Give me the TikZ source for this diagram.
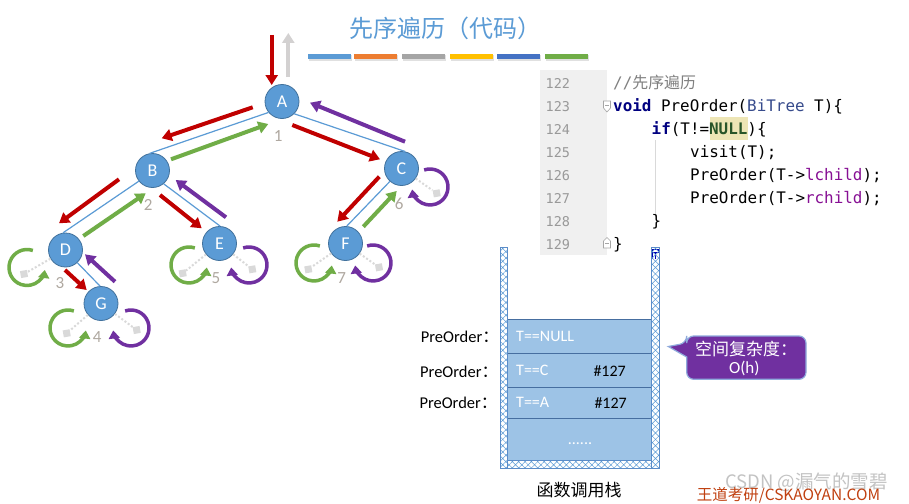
\documentclass[tikz,border=0pt]{standalone}
\usepackage{fontspec}
\setmainfont{Carlito}
\newfontfamily\cjk{Noto Sans CJK SC}
\newfontfamily\mono{DejaVu Sans Mono}
\usetikzlibrary{arrows.meta,patterns.meta,calc}
\definecolor{nodefill}{HTML}{5B9BD5}
\definecolor{nodeline}{HTML}{41719C}
\definecolor{edgeblue}{HTML}{5B9BD5}
\definecolor{arrred}{HTML}{C00000}
\definecolor{arrgreen}{HTML}{70AD47}
\definecolor{arrpurple}{HTML}{7030A0}
\definecolor{arrgray}{HTML}{D3D1D1}
\definecolor{numgray}{RGB}{175,168,160}
\definecolor{titleblue}{HTML}{5B9BD5}
\definecolor{barA}{HTML}{5B9BD5}
\definecolor{barB}{HTML}{ED7D31}
\definecolor{barC}{HTML}{A5A5A5}
\definecolor{barD}{HTML}{FFC000}
\definecolor{barE}{HTML}{4472C4}
\definecolor{barF}{HTML}{70AD47}
\definecolor{codebg}{HTML}{F0F0F0}
\definecolor{lnumgray}{HTML}{999999}
\definecolor{commentgray}{HTML}{808080}
\definecolor{kwnavy}{HTML}{000080}
\definecolor{typecol}{RGB}{55,75,140}
\definecolor{nullgreen}{RGB}{40,85,40}
\definecolor{fieldpurple}{HTML}{871094}
\definecolor{hilite}{RGB}{237,229,181}
\definecolor{stackfill}{RGB}{157,195,230}
\definecolor{stackline}{RGB}{70,110,160}
\definecolor{wallline}{RGB}{91,140,200}
\definecolor{wallpat}{RGB}{91,155,213}
\definecolor{callfill}{HTML}{7030A0}
\definecolor{callline}{RGB}{143,170,220}
\definecolor{wmgray}{RGB}{195,195,195}
\definecolor{wmred}{RGB}{192,64,16}
\definecolor{sqgray}{HTML}{D9D9D9}
\newcommand{\myfs}[1]{\fontsize{#1}{#1}\selectfont}
\tikzset{
  tnode/.style={circle, fill=nodefill, draw=nodeline, line width=0.8pt, minimum size=34pt, inner sep=0pt, text=white, font=\myfs{18}},
  tedge/.style={draw=edgeblue, line width=1.2pt},
  redarr/.style={draw=arrred, line width=4pt, -{Triangle[length=10pt,width=12pt]}},
  greenarr/.style={draw=arrgreen, line width=4pt, -{Triangle[length=10pt,width=12pt]}},
  purparr/.style={draw=arrpurple, line width=4pt, -{Triangle[length=10pt,width=12pt]}},
  grayarr/.style={draw=arrgray, line width=4pt, -{Triangle[length=10pt,width=12pt]}},
  gloopst/.style={draw=arrgreen, line width=3.5pt, -{Triangle[length=8pt,width=11pt]}},
  ploopst/.style={draw=arrpurple, line width=3.5pt, -{Triangle[length=8pt,width=11pt]}},
  nullsq/.style={rectangle, fill=sqgray, minimum size=7pt, inner sep=0pt, rotate=10},
  nullline/.style={draw=sqgray, line width=2pt, dotted},
  numlbl/.style={text=numgray, font=\myfs{17}, inner sep=0pt},
  lnum/.style={text=lnumgray, font=\mono\myfs{13.5}, anchor=base west, inner sep=0pt},
  code/.style={font=\mono\myfs{15.9}, anchor=base west, inner sep=0pt},
  frametxt/.style={text=white, font=\myfs{16}, anchor=west, inner sep=0pt},
  framenum/.style={text=black, font=\myfs{16}, anchor=west, inner sep=0pt},
  calllbl/.style={text=black, font=\myfs{16.5}, anchor=base west, inner sep=0pt},
  wall/.style={draw=wallline, line width=0.8pt, pattern={Hatch[angle=45,distance=4.5pt,line width=0.5pt]}, pattern color=wallpat},
  stackframe/.style={fill=stackfill, draw=stackline, line width=1pt},
  callout/.style={fill=callfill, draw=callline, line width=1.2pt}
}
\newcommand{\lloop}[5]{%
  \node[nullsq] (#1l) at (#4,#5) {};
  \draw[nullline] (#1) -- (#1l);
  \draw[gloopst] ($(#2,#3)+(71:18pt)$) arc[start angle=71,end angle=352,radius=18pt];
}
\newcommand{\rloop}[5]{%
  \node[nullsq] (#1r) at (#4,#5) {};
  \draw[nullline] (#1) -- (#1r);
  \draw[ploopst] ($(#2,#3)+(109:18pt)$) arc[start angle=109,end angle=-172,radius=18pt];
}
\begin{document}
\begin{tikzpicture}[x=1pt,y=-1pt]
\useasboundingbox (0,0) rectangle (909,503);
\fill[white] (0,0) rectangle (909,503);

% title
\node[text=titleblue, font=\cjk\myfs{24}, inner sep=0pt] (title) at (445.5,28.5) {先序遍历（代码）};
\foreach \xa/\xb/\c in {308.3/350.7/barA,354/396.7/barB,402/445/barC,450/492.7/barD,497.3/540/barE,545/587.7/barF}{
  \fill[black!12] (\xa+1,55.5) rectangle (\xb+1,60.5);
  \fill[\c] (\xa,54) rectangle (\xb,59);
}

% tree nodes
\node[tnode] (A) at (282,101.5) {A};
\node[tnode] (B) at (152.5,170.5) {B};
\node[tnode] (C) at (401.5,168.5) {C};
\node[tnode] (D) at (65.5,250) {D};
\node[tnode] (E) at (219.5,243.5) {E};
\node[tnode] (F) at (345.5,243.5) {F};
\node[tnode] (G) at (101,303.5) {G};

% edges
\draw[tedge] (A.219) -- (B.99);
\draw[tedge] (A.315) -- (C.78);
\draw[tedge] (B.218) -- (D.98);
\draw[tedge] (B.310) -- (E.88);
\draw[tedge] (C.228) -- (F.86);
\draw[tedge] (D.313) -- (G.93);

% traversal arrows
\draw[redarr] (271.7,35) -- (271.7,85);
\draw[grayarr] (288.3,77) -- (288.3,33);
\draw[redarr] (252.7,107.3) -- (161.7,138.3);
\draw[redarr] (292.3,125) -- (380,159.3);
\draw[redarr] (119,179.3) -- (59,223.3);
\draw[redarr] (160,195) -- (201.7,228.3);
\draw[redarr] (379.3,176.7) -- (337.3,221.7);
\draw[redarr] (65,270) -- (86.7,290);
\draw[greenarr] (171,159.3) -- (268.3,124);
\draw[greenarr] (83.3,236) -- (145.7,193.3);
\draw[greenarr] (363.3,226.7) -- (396.7,191);
\draw[purparr] (405,141.7) -- (310,102.7);
\draw[purparr] (226,217.3) -- (175.7,180);
\draw[purparr] (115,281.7) -- (85,254.3);

% null-child loops
\lloop{D}{27}{267.5}{24}{274}
\lloop{G}{68}{328}{66.7}{333.3}
\rloop{G}{131}{328}{136.7}{330}
\lloop{E}{189}{265}{182.7}{273.3}
\rloop{E}{249}{265}{252.3}{269.3}
\lloop{F}{314}{263}{308.3}{269.3}
\rloop{F}{373}{263}{379}{267.3}
\rloop{C}{430}{187}{436.7}{193.3}

% order numbers
\node[numlbl] (n1) at (278.3,136) {1};
\node[numlbl] (n2) at (148.3,205) {2};
\node[numlbl] (n3) at (60,283.3) {3};
\node[numlbl] (n4) at (97.3,337.3) {4};
\node[numlbl] (n5) at (216,278.3) {5};
\node[numlbl] (n6) at (399.3,204) {6};
\node[numlbl] (n7) at (341.7,278.3) {7};

% code block
\fill[codebg] (540,70) rectangle (607,255);
\fill[hilite] (710,117) rectangle (748.3,139.5);
\draw[black!15, line width=0.6pt] (655,140) -- (655,217);
\foreach \n/\yy in {122/88,123/111,124/134,125/157,126/180,127/203,128/226,129/249}{
  \node[lnum] (ln\n) at (545.5,\yy) {\n};
}
\draw[black!35, fill=white, line width=0.6pt] (603.5,101) -- (610.5,101) -- (610.5,108) -- (607,112) -- (603.5,108) -- cycle;
\draw[black!35, line width=0.6pt] (605,105) -- (609,105);
\draw[black!35, fill=white, line width=0.6pt] (603.5,248) -- (610.5,248) -- (610.5,241) -- (607,237.5) -- (603.5,241) -- cycle;
\draw[black!35, line width=0.6pt] (605,243.5) -- (609,243.5);
\node[code, text=commentgray] (c122) at (613,88) {//{\cjk 先序遍历}};
\node[code] (c123) at (613,111) {\textcolor{kwnavy}{\bfseries void} PreOrder(\textcolor{typecol}{BiTree} T)\{};
\node[code] (c124) at (651.5,134) {\textcolor{kwnavy}{\bfseries if}(T!=\textcolor{nullgreen}{\bfseries NULL})\{};
\node[code] (c125) at (690,157) {visit(T);};
\node[code] (c126) at (690,180) {PreOrder(T->\textcolor{fieldpurple}{lchild});};
\node[code] (c127) at (690,203) {PreOrder(T->\textcolor{fieldpurple}{rchild});};
\node[code] (c128) at (651.5,226) {\}};
\node[code] (c129) at (613,249) {\}};
\draw[blue!70!black, line width=0.6pt] (652.5,259) -- (652.5,249) -- (658.5,249) -- (658.5,252) -- (652.5,252);
\draw[blue!70!black, line width=0.6pt] (655.5,252) -- (655.5,259);

% call stack
\draw[stackframe] (507.7,319) rectangle (651.7,353.3);
\draw[stackframe] (507.7,353.3) rectangle (651.7,387.3);
\draw[stackframe] (507.7,387.3) rectangle (651.7,418.3);
\draw[stackframe] (507.7,418.3) rectangle (651.7,460);
\draw[wall] (500,247.3) rectangle (507.7,468.3);
\draw[wall] (651.7,247.3) rectangle (659.3,468.3);
\draw[wall] (507.7,460) rectangle (651.7,468.3);
\node[frametxt] (s1) at (516,336) {T==NULL};
\node[frametxt] (s2) at (516,370.7) {T==C};
\node[framenum] (s2n) at (593.3,370.7) {\#127};
\node[frametxt] (s3) at (516,402.7) {T==A};
\node[framenum] (s3n) at (594.3,402.7) {\#127};
\node[text=white, font=\myfs{16}, anchor=base, inner sep=0pt] (s4) at (580,444) {......};
\node[calllbl] (p1) at (420.7,342) {PreOrder{\cjk ：}};
\node[calllbl] (p2) at (420,377) {PreOrder{\cjk ：}};
\node[calllbl] (p3) at (419.3,408.5) {PreOrder{\cjk ：}};
\node[font=\cjk\myfs{17}, inner sep=0pt] (stk) at (579,490) {函数调用栈};

% callout
\draw[callout] (686.7,343) -- (668.3,346.5) -- (686.7,357) [rounded corners=7pt] -- (686.7,379.3) -- (806,379.3) -- (806,336) -- (686.7,336) -- cycle;
\node[text=white, font=\cjk\myfs{17}, inner sep=0pt] (cx1) at (746,348.5) {空间复杂度：};
\node[text=white, font=\myfs{17}, inner sep=0pt] (cx2) at (744.3,368.5) {O(h)};

% watermarks
\node[text=wmgray, font=\cjk\myfs{18.5}, inner sep=0pt] (wm1) at (806.5,482.5) {CSDN @漏气的雪碧};
\node[text=wmred, font=\cjk\myfs{15.5}, inner sep=0pt] (wm2) at (788.5,495.5) {王道考研/CSKAOYAN.COM};
\end{tikzpicture}
\end{document}
